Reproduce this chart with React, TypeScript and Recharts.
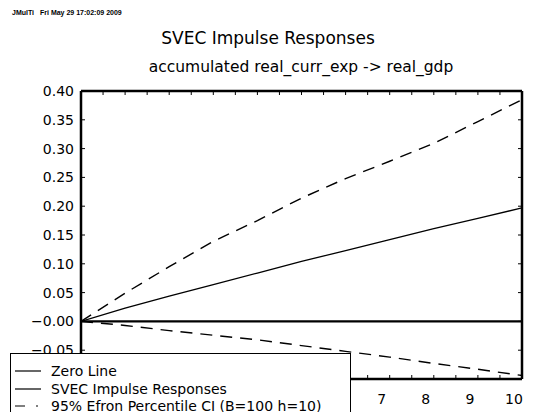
import React from 'react';
import { LineChart, Line, XAxis, YAxis } from 'recharts';

// ---- data ----
const steps = [0, 1, 2, 3, 4, 5, 6, 7, 8, 9, 10];
const zeroLine = [0, 0, 0, 0, 0, 0, 0, 0, 0, 0, 0];
const irf = [0, 0.023, 0.044, 0.064, 0.084, 0.104, 0.123, 0.142, 0.161, 0.179, 0.197];
const ciUpper = [0, 0.049, 0.095, 0.139, 0.175, 0.214, 0.248, 0.278, 0.309, 0.347, 0.385];
const ciLower = [0, -0.007, -0.016, -0.024, -0.032, -0.042, -0.052, -0.062, -0.073, -0.083, -0.094];

const yTicks = [-0.05, 0, 0.05, 0.1, 0.15, 0.2, 0.25, 0.3, 0.35, 0.4];
// tick labels visible in the reference (0-6 are covered by the legend box)
const xLabelTicks = [7, 8, 9, 10];
const xMinorTicks = [0, 0.5, 1, 1.5, 2, 2.5, 3, 3.5, 4, 4.5, 5, 5.5, 6, 6.5, 7, 7.5, 8, 8.5, 9, 9.5, 10];
const xDomain = [0, 10];
const yDomain = [-0.1, 0.4];

const headerLeft = 'JMulTi';
const headerDate = 'Fri May 29 17:02:09 2009';
const title = 'SVEC Impulse Responses';
const subtitle = 'accumulated real_curr_exp -> real_gdp';
const legendLabels = ['Zero Line', 'SVEC Impulse Responses', '95% Efron Percentile CI (B=100 h=10)'];

const rows = steps.map((s, i) => ({
  step: s,
  zero: zeroLine[i],
  irf: irf[i],
  upper: ciUpper[i],
  lower: ciLower[i],
}));

const FONT = '"DejaVu Sans", sans-serif';

const fmtY = (v: number) => {
  if (v === 0) return '\u22120.00';
  if (v < 0) return '\u2212' + Math.abs(v).toFixed(2);
  return v.toFixed(2);
};

const YTick = (props: any) => {
  const { x, y, payload } = props;
  return (
    <text x={x} y={y} dy="0.36em" textAnchor="end" fontSize={14} fontFamily={FONT} fill="#000">
      {fmtY(payload.value)}
    </text>
  );
};

const XTick = (props: any) => {
  const { x, y, payload } = props;
  return (
    <text x={x - 8} y={y} dy="0.71em" textAnchor="middle" fontSize={14} fontFamily={FONT} fill="#000">
      {payload.value}
    </text>
  );
};

const NoLabel = () => <g />;

const legendDash = [undefined, undefined, '10 11 2 10'];

const tickLineStyle = { stroke: '#000', strokeWidth: 1 };
const borderStyle = { stroke: '#000', strokeWidth: 2.5 };

export default function App() {
  return (
    <div style={{ position: 'relative', width: 533, height: 420, margin: -8, background: '#fff', overflow: 'hidden' }}>
      <div style={{ position: 'absolute', left: 12, top: 8, fontFamily: '"Liberation Sans", Arial, sans-serif', fontWeight: 'bold', fontSize: 7, lineHeight: '10px', whiteSpace: 'pre' }}>
        {headerLeft}
      </div>
      <div style={{ position: 'absolute', left: 40, top: 8, fontFamily: '"Liberation Sans", Arial, sans-serif', fontWeight: 'bold', fontSize: 7, lineHeight: '10px', whiteSpace: 'pre' }}>
        {headerDate}
      </div>
      <div style={{ position: 'absolute', left: 68, width: 400, top: 27, textAlign: 'center', fontFamily: FONT, fontSize: 17, lineHeight: '22px', whiteSpace: 'pre' }}>
        {title}
      </div>
      <div style={{ position: 'absolute', left: 101, width: 400, top: 57, textAlign: 'center', fontFamily: FONT, fontSize: 15.5, lineHeight: '20px', whiteSpace: 'pre' }}>
        {subtitle}
      </div>
      <div style={{ position: 'absolute', left: 0, top: 0 }}>
        <LineChart width={533} height={420} data={rows} margin={{ top: 91, right: 11, bottom: 40, left: 80 }}>
          <XAxis xAxisId="b" dataKey="step" type="number" domain={xDomain} ticks={xLabelTicks} interval={0}
            orientation="bottom" height={1} tickLine={false} axisLine={false} tickSize={0} tickMargin={15}
            tick={<XTick />} allowDataOverflow />
          <XAxis xAxisId="bm" dataKey="step" type="number" domain={xDomain} ticks={xMinorTicks} interval={0}
            orientation="bottom" mirror height={20} tick={<NoLabel />} tickSize={4}
            tickLine={tickLineStyle} axisLine={borderStyle} allowDataOverflow />
          <XAxis xAxisId="t" dataKey="step" type="number" domain={xDomain} ticks={xMinorTicks} interval={0}
            orientation="top" mirror height={20} tick={<NoLabel />} tickSize={4}
            tickLine={tickLineStyle} axisLine={borderStyle} allowDataOverflow />
          <YAxis yAxisId="l" type="number" domain={yDomain} ticks={yTicks} interval={0}
            orientation="left" width={1} tickLine={false} axisLine={false} tickSize={0} tickMargin={7}
            tick={<YTick />} allowDataOverflow />
          <YAxis yAxisId="lm" type="number" domain={yDomain} ticks={yTicks} interval={0}
            orientation="left" mirror width={20} tick={<NoLabel />} tickSize={4}
            tickLine={tickLineStyle} axisLine={borderStyle} allowDataOverflow />
          <YAxis yAxisId="r" type="number" domain={yDomain} ticks={yTicks} interval={0}
            orientation="right" mirror width={20} tick={<NoLabel />} tickSize={4}
            tickLine={tickLineStyle} axisLine={borderStyle} allowDataOverflow />
          <Line xAxisId="b" yAxisId="l" dataKey="zero" type="linear" stroke="#000" strokeWidth={2.2} dot={false} isAnimationActive={false} />
          <Line xAxisId="b" yAxisId="l" dataKey="irf" type="linear" stroke="#000" strokeWidth={1.3} dot={false} isAnimationActive={false} />
          <Line xAxisId="b" yAxisId="l" dataKey="upper" type="linear" stroke="#000" strokeWidth={1.4} strokeDasharray="12 8" dot={false} isAnimationActive={false} />
          <Line xAxisId="b" yAxisId="l" dataKey="lower" type="linear" stroke="#000" strokeWidth={1.4} strokeDasharray="12 8" dot={false} isAnimationActive={false} />
        </LineChart>
      </div>
      <div style={{ position: 'absolute', left: 10, top: 353, width: 339, height: 65, border: '1px solid #000', background: '#fff', fontFamily: FONT, fontSize: 14 }}>
        {legendLabels.map((lab, i) => (
          <div key={lab} style={{ position: 'absolute', left: 0, top: 8 + i * 17.5, height: 18, display: 'flex', alignItems: 'center', whiteSpace: 'pre' }}>
            <svg width={40} height={18} style={{ display: 'block' }}>
              <line x1={4} x2={30} y1={9} y2={9} stroke="#000" strokeWidth={1.2} strokeDasharray={legendDash[i]} />
            </svg>
            <span style={{ lineHeight: '18px' }}>{lab}</span>
          </div>
        ))}
      </div>
    </div>
  );
}
